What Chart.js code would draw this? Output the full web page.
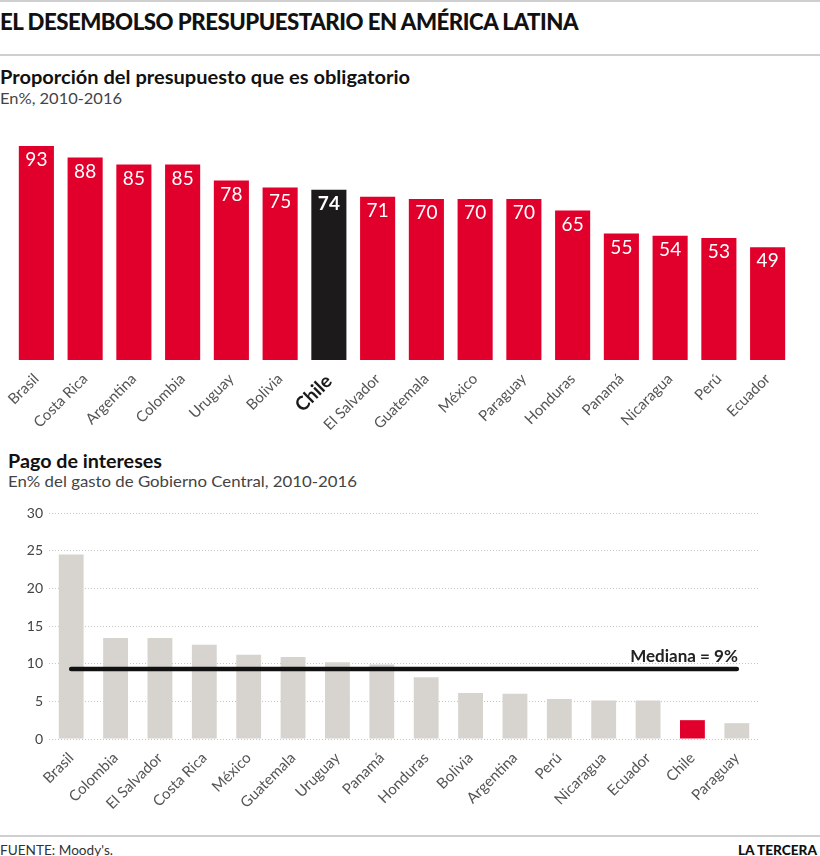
<!DOCTYPE html>
<html><head><meta charset="utf-8">
<script src="https://cdn.jsdelivr.net/npm/chart.js@4"></script>
<style>
body{margin:0;width:820px;height:856px;background:#fff;position:relative;overflow:hidden;font-family:Lato,"Open Sans",sans-serif;}
.t{position:absolute;white-space:nowrap;transform-origin:0 0;line-height:1;}
.hr{position:absolute;left:0;width:820px;height:2px;background:#cfcfcf;}
canvas{position:absolute;left:0;}
</style></head><body>
<div class="hr" style="top:0"></div>
<div class="t" data-w="578" style="left:0;top:7px;font:900 23px Lato;color:#111;letter-spacing:-0.5px">EL DESEMBOLSO PRESUPUESTARIO EN AMÉRICA LATINA</div>
<div class="hr" style="top:54px"></div>
<div class="t" data-w="410" style="left:0;top:66px;font:bold 18px Lato;color:#111">Proporción del presupuesto que es obligatorio</div>
<div class="t" data-w="122" style="left:0;top:88px;font:16px Lato;color:#444">En%, 2010-2016</div>
<div style="position:absolute;left:0;top:120px;width:820px;height:330px"><canvas id="c1"></canvas></div>
<div class="t" data-w="154" style="left:8px;top:450px;font:bold 18px Lato;color:#111">Pago de intereses</div>
<div class="t" data-w="349" style="left:8px;top:471px;font:16px Lato;color:#444">En% del gasto de Gobierno Central, 2010-2016</div>
<div style="position:absolute;left:0;top:495px;width:820px;height:341px"><canvas id="c2"></canvas></div>
<div class="hr" style="top:835px"></div>
<div class="t" data-w="113" style="left:0;top:842px;font:13px Lato;color:#333">FUENTE: Moody's.</div>
<div class="t" data-w="79" style="left:738px;top:842px;font:900 13px Lato;color:#111">LA TERCERA</div>
<script>
// ---- Data ----
const topCats = ['Brasil','Costa Rica','Argentina','Colombia','Uruguay','Bolivia','Chile','El Salvador','Guatemala','México','Paraguay','Honduras','Panamá','Nicaragua','Perú','Ecuador'];
const topVals = [93,88,85,85,78,75,74,71,70,70,70,65,55,54,53,49];
const botCats = ['Brasil','Colombia','El Salvador','Costa Rica','México','Guatemala','Uruguay','Panamá','Honduras','Bolivia','Argentina','Perú','Nicaragua','Ecuador','Chile','Paraguay'];
const botVals = [24.5,13.4,13.4,12.5,11.2,10.9,10.2,9.9,8.2,6.1,6.0,5.3,5.1,5.1,2.5,2.1];
const median = 9.3;
const medianLabel = 'Mediana = 9%';
const yTicks = [0,5,10,15,20,25,30];
const highlight = 'Chile';

const RED = '#e1002b', BLACK = '#1d1a1b', GREY = '#d7d4cf';

document.querySelectorAll('[data-w]').forEach(el => {
  const w = el.getBoundingClientRect().width;
  el.style.transform = 'scaleX(' + (el.dataset.w / w) + ')';
});

const topLabels = {
  id: 'topLabels',
  afterDatasetsDraw(chart) {
    const ctx = chart.ctx;
    chart.getDatasetMeta(0).data.forEach((bar, i) => {
      ctx.save();
      ctx.fillStyle = '#fff';
      ctx.font = (topCats[i] === highlight ? 'bold ' : '') + '19px Lato';
      ctx.textAlign = 'center';
      ctx.textBaseline = 'middle';
      ctx.fillText(String(topVals[i]), bar.x, bar.y + 14);
      ctx.restore();
    });
  }
};

new Chart(document.getElementById('c1'), {
  type: 'bar',
  data: {
    labels: topCats,
    datasets: [{
      data: topVals,
      backgroundColor: topCats.map(c => c === highlight ? BLACK : RED),
      categoryPercentage: 1,
      barPercentage: 0.72
    }]
  },
  options: {
    responsive: true, maintainAspectRatio: false, animation: false,
    layout: { padding: { left: 12, right: 28, top: 10, bottom: 0 } },
    plugins: { legend: { display: false }, tooltip: { enabled: false } },
    scales: {
      y: { display: false, min: 0, max: 100 },
      x: {
        grid: { display: false }, border: { display: false },
        ticks: {
          autoSkip: false, maxRotation: 45, minRotation: 45, padding: 2,
          color: (c) => topCats[c.index] === highlight ? '#1a1a1a' : '#555',
          font: (c) => topCats[c.index] === highlight ? { family: 'Lato', size: 19, weight: 'bold' } : { family: 'Lato', size: 15 }
        },
        afterFit: (s) => { s.height = 90; s.paddingLeft = 0; s.paddingRight = 0; }
      }
    }
  },
  plugins: [topLabels]
});

const medianText = {
  id: 'medianText',
  afterDatasetsDraw(chart) {
    const meta = chart.getDatasetMeta(1);
    const last = meta.data[meta.data.length - 1];
    const ctx = chart.ctx;
    ctx.save();
    ctx.fillStyle = '#222';
    ctx.font = 'bold 17px Lato';
    ctx.textAlign = 'right';
    ctx.textBaseline = 'alphabetic';
    ctx.fillText(medianLabel, last.x + 1, last.y - 7);
    ctx.restore();
  }
};

new Chart(document.getElementById('c2'), {
  data: {
    labels: botCats,
    datasets: [{
      type: 'bar', order: 1,
      data: botVals,
      backgroundColor: botCats.map(c => c === highlight ? RED : GREY),
      categoryPercentage: 1, barPercentage: 0.56
    }, {
      type: 'line', order: 0,
      data: botCats.map(() => median),
      borderColor: '#111', borderWidth: 4.5, pointRadius: 0,
      borderCapStyle: 'round', fill: false
    }]
  },
  options: {
    responsive: true, maintainAspectRatio: false, animation: false,
    layout: { padding: { left: 0, right: 61, top: 18, bottom: 0 } },
    plugins: { legend: { display: false }, tooltip: { enabled: false } },
    scales: {
      y: {
        min: 0, max: 30,
        afterBuildTicks: (s) => { s.ticks = yTicks.map(v => ({ value: v })); },
        ticks: { color: '#444', font: { family: 'Lato', size: 14 }, padding: 6 },
        grid: { color: '#c4c4c4', lineWidth: 1, drawTicks: false, borderDash: [1, 2] },
        border: { display: false, dash: [1, 2] },
        afterFit: (s) => { s.width = 49; s.paddingTop = 0; s.paddingBottom = 0; }
      },
      x: {
        grid: { display: false }, border: { display: false },
        ticks: { autoSkip: false, maxRotation: 45, minRotation: 45, padding: 2, color: '#555', font: { family: 'Lato', size: 15 } },
        afterFit: (s) => { s.height = 97; s.paddingLeft = 0; s.paddingRight = 0; }
      }
    }
  },
  plugins: [medianText]
});
</script>
</body></html>
